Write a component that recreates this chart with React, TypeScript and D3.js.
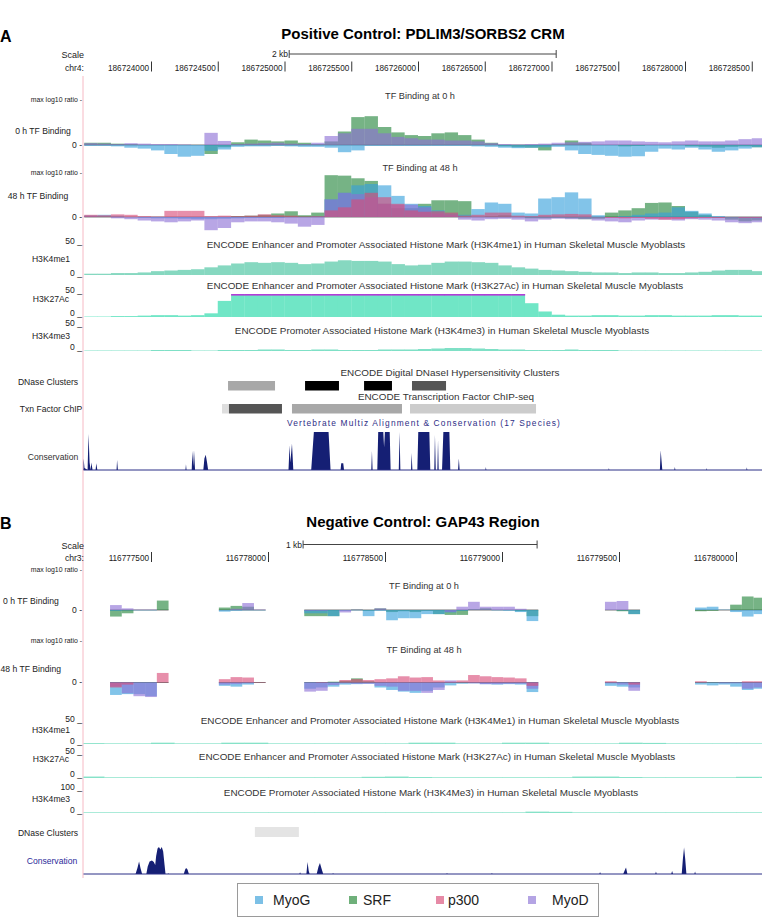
import * as d3 from "d3";
import React from "react";

const W = 762;
const H = 921;
const FONT = "'Liberation Sans', Arial, Helvetica, sans-serif";
const LEFT = 83.5;
const RIGHT = 762;

// ---- factor colours ----
const factorNames = ["MyoG", "SRF", "p300", "MyoD"];
const factorColors: any = {
  MyoG: "#35a0dc",
  SRF: "#22853a",
  p300: "#d94a78",
  MyoD: "#8c70d5",
};
const legendColors: any = {
  MyoG: "#7cc0e6",
  SRF: "#6fb07a",
  p300: "#e68aa6",
  MyoD: "#b4a4e4",
};
// draw order of the overlay
const drawOrder = ["SRF", "MyoG", "MyoD", "p300"];

// ---- Positive control, chr4, 100 bp bins from 186723500 ----
const aBinStart = 186723500;
const aBin = 100;

const myogA0 = [-0.02, -0.02, -0.03, -0.06, -0.08, -0.12, -0.2, -0.26, -0.24, -0.13, -0.1, -0.04, -0.03, -0.03, -0.02, -0.03, -0.04, -0.04, -0.06, -0.16, -0.12, -0.02, -0.02, -0.02, -0.02, -0.02, -0.02, -0.02, -0.02, -0.03, -0.04, -0.06, -0.07, -0.06, -0.05, -0.04, -0.12, -0.2, -0.22, -0.24, -0.26, -0.25, -0.15, -0.08, -0.1, -0.06, -0.1, -0.15, -0.12, -0.08, -0.05];
const srfA0 = [0.05, 0.05, 0.03, 0.02, 0, 0, 0, 0, 0, -0.2, -0.05, 0.06, 0.12, 0.1, 0.08, 0.1, 0.05, 0.02, 0.08, 0.3, 0.62, 0.64, 0.4, 0.28, 0.22, 0.2, 0.26, 0.28, 0.22, 0.12, 0.05, -0.03, -0.05, -0.06, -0.12, 0.02, 0.1, 0.05, 0, 0, -0.03, -0.02, 0, 0, 0, -0.03, -0.04, -0.06, -0.04, -0.03, -0.05];
const myodA0 = [0.04, 0.03, 0.02, 0.04, 0.03, 0.02, 0.02, 0.01, 0, 0.27, 0.09, 0.02, 0.03, 0.04, 0.05, 0.03, 0.02, 0.05, 0.2, 0.26, 0.36, 0.36, 0.26, 0.18, 0.15, 0.12, 0.12, 0.1, 0.1, 0.08, 0.04, 0.02, 0.01, 0.02, 0.03, 0.05, 0.06, 0.07, 0.08, 0.1, 0.1, 0.08, 0.07, 0.06, 0.08, 0.1, 0.08, 0.08, 0.1, 0.13, 0.15];

const myogA48 = [0.04, 0.05, 0.03, 0, -0.02, -0.03, -0.03, -0.04, -0.05, -0.05, -0.04, -0.03, -0.02, -0.02, -0.02, 0, 0, 0.02, 0.4, 0.55, 0.72, 0.75, 0.72, 0.48, 0.3, 0.25, 0.15, 0.08, 0.05, 0.18, 0.33, 0.3, 0.1, 0.08, 0.42, 0.45, 0.56, 0.42, 0.04, 0, 0.02, 0.05, 0.08, 0.1, 0.22, 0.14, 0.08, 0.02, 0, -0.02, -0.03];
const srfA48 = [0.02, 0.02, 0, 0, 0, 0, 0, 0, 0, 0, 0, 0.02, 0.03, 0.05, 0.08, 0.13, 0.04, 0.1, 0.95, 0.94, 0.88, 0.82, 0.3, 0.2, 0.2, 0.3, 0.38, 0.38, 0.36, 0, 0.02, 0.04, 0, -0.03, -0.03, -0.02, -0.03, -0.05, -0.04, 0.1, 0.15, 0.2, 0.32, 0.33, 0.25, 0.12, 0.05, -0.02, -0.06, -0.1, -0.08];
const myodA48 = [0.02, 0, -0.03, -0.05, -0.08, -0.1, -0.12, -0.1, -0.08, -0.3, -0.25, -0.12, -0.1, -0.1, -0.12, -0.15, -0.22, -0.18, 0.4, 0.55, 0.52, 0.45, 0.3, 0.28, 0.28, 0.22, 0.08, 0.05, -0.06, -0.08, -0.05, -0.04, -0.06, -0.1, -0.06, -0.04, -0.05, -0.05, -0.08, -0.1, -0.12, -0.08, -0.06, -0.06, -0.08, -0.05, -0.06, -0.08, -0.12, -0.14, -0.12];
const p300A48 = [0.05, 0.04, 0.06, 0.05, 0.02, 0.01, 0.14, 0.14, 0.14, 0.02, 0.03, 0.02, 0.03, 0.06, 0.04, 0.03, 0.01, 0.02, 0.15, 0.22, 0.4, 0.55, 0.45, 0.3, 0.15, 0.12, 0.13, 0.1, 0.03, 0.05, 0.1, 0.1, 0.03, 0.02, 0.05, 0.06, 0.07, 0.06, 0, -0.02, -0.03, -0.02, -0.04, -0.06, -0.05, -0.03, -0.02, -0.02, 0, -0.02, -0.02];

// histone marks, same 100 bp bins
const h3k4me1A = [2, 2, 3, 3, 4, 6, 7, 8, 9, 12, 15, 18, 20, 19, 20, 19, 17, 18, 21, 23, 22, 22, 21, 17, 15, 16, 19, 21, 21, 20, 19, 15, 12, 10, 8, 7, 6, 5, 4, 4, 3, 4, 4, 3, 3, 4, 5, 7, 8, 8, 6];
const h3k27acA = [1, 1, 2, 2, 3, 4, 4, 3, 4, 8, 35, 62, 64, 63, 62, 64, 63, 62, 64, 65, 63, 62, 64, 63, 62, 61, 63, 64, 62, 61, 60, 58, 52, 30, 12, 5, 3, 3, 4, 4, 3, 3, 4, 4, 3, 3, 3, 4, 4, 3, 3];
const h3k4me3A = [1, 1, 1, 1, 1, 2, 2, 2, 1, 1, 2, 2, 2, 3, 3, 2, 2, 3, 3, 2, 2, 2, 3, 3, 3, 4, 5, 6, 6, 5, 4, 3, 3, 2, 2, 2, 3, 2, 2, 2, 1, 1, 1, 1, 1, 1, 1, 1, 1, 1, 1];

// [start, end, score]
const dnaseA = [
  [186724577, 186724929, 340],
  [186725154, 186725408, 1000],
  [186725596, 186725805, 1000],
  [186725955, 186726210, 667],
];
const chipA = [
  [186724532, 186724584, 130],
  [186724584, 186724981, 667],
  [186725056, 186725880, 340],
  [186725940, 186726884, 200],
];

// conservation profile vertices: [offset from 186724000, score 0..1]
const consA = [
  [-512, 0], [-505, 0.3], [-498, 0.05], [-475, 0], [-468, 0.95], [-460, 0.2], [-452, 0], [-446, 0.2], [-438, 0],
  [-415, 0], [-410, 0.18], [-402, 0], [-258, 0], [-254, 0.26], [-248, 0], [258, 0], [262, 0.15], [266, 0],
  [305, 0], [310, 0.5], [316, 0.1], [322, 0.52], [330, 0], [392, 0], [400, 0.3], [410, 0.4], [420, 0.2], [428, 0],
  [1030, 0], [1038, 0.65], [1044, 0.2], [1056, 0.7], [1066, 0], [1200, 0], [1220, 1], [1330, 1], [1345, 0],
  [1420, 0], [1425, 0.18], [1440, 0.18], [1446, 0], [1650, 0], [1655, 0.5], [1660, 0],
  [1695, 0], [1702, 1], [1740, 1], [1746, 0.6], [1752, 1], [1788, 1], [1795, 0],
  [1856, 0], [1862, 1], [1868, 0], [1948, 0], [1952, 0.45], [1958, 0], [1995, 0], [2002, 1], [2085, 1], [2092, 0],
  [2122, 0], [2127, 0.92], [2133, 0], [2145, 0], [2150, 0.78], [2155, 0], [2180, 0], [2190, 1], [2235, 1], [2242, 0],
  [2300, 0], [2306, 0.3], [2312, 0], [2505, 0], [2508, 0.08], [2512, 0], [3427, 0], [3430, 0.05], [3433, 0],
  [3812, 0], [3818, 0.52], [3824, 0.25], [3830, 0], [3920, 0], [3924, 0.08], [3928, 0], [4160, 0], [4163, 0.05],
  [4166, 0], [4460, 0], [4463, 0.07], [4467, 0],
];

// ---- Negative control, chr3, 50 bp bins in covered stretches ----
const bSegments = [
  [116777325, 5],
  [116777790, 4],
  [116778155, 20],
  [116779440, 3],
  [116779825, 6],
];
const bBin = 50;

const myogB0 = [-0.02, -0.01, -0.01, -0.01, 0, -0.04, -0.02, -0.01, -0.01, -0.08, -0.08, -0.15, -0.02, -0.01, -0.15, -0.02, -0.25, -0.2, -0.2, -0.1, -0.1, -0.06, -0.02, 0, 0, -0.01, -0.02, -0.05, -0.27, 0, -0.01, -0.1, 0.06, 0.08, 0.01, -0.05, -0.16, -0.1];
const srfB0 = [-0.16, -0.08, 0, 0, 0.23, 0.06, 0.1, 0.08, 0, -0.15, -0.15, -0.15, 0, 0.01, -0.02, 0.04, -0.05, -0.03, -0.05, -0.02, -0.1, -0.12, -0.12, 0.02, 0.04, 0, 0, -0.03, -0.15, 0, -0.03, -0.1, -0.03, -0.02, 0, 0.13, 0.33, 0.3];
const myodB0 = [0.12, 0.04, 0.01, 0.01, 0, 0, 0.03, 0.17, 0.01, -0.02, -0.02, 0, -0.06, 0.01, 0, 0.04, 0, 0, 0, 0, 0, -0.05, 0.08, 0.2, 0.08, 0.08, 0.08, 0.03, 0, 0.2, 0.22, 0, 0, 0, 0, 0, 0, 0];

const myogB48 = [-0.3, -0.28, -0.28, -0.33, 0, -0.08, -0.1, -0.05, 0, -0.15, -0.12, -0.1, -0.05, -0.04, -0.03, -0.12, -0.18, -0.22, -0.25, -0.2, -0.12, -0.07, -0.03, -0.02, -0.04, -0.05, -0.04, -0.05, -0.23, -0.08, -0.1, -0.12, -0.05, -0.07, -0.05, -0.1, -0.18, -0.15];
const srfB48 = [0, 0, 0, 0, 0, 0, 0, 0, 0, 0, 0, 0.02, 0.04, 0.1, 0.03, 0, 0, 0, 0, 0, 0, 0, 0, 0, 0, 0, 0, 0, 0, 0, 0, 0, 0, 0, 0, 0, 0, 0];
const myodB48 = [-0.1, -0.26, -0.33, -0.35, 0, -0.05, -0.04, -0.02, 0, -0.22, -0.2, -0.06, -0.02, -0.03, -0.03, -0.08, -0.1, -0.2, -0.2, -0.25, -0.18, 0.05, 0, -0.02, -0.04, -0.04, -0.03, -0.03, -0.15, -0.02, -0.05, -0.2, 0, 0, -0.02, -0.02, -0.15, -0.12];
const p300B48 = [-0.12, -0.05, 0, 0, 0.23, 0.08, 0.13, 0.12, 0.01, 0, 0.01, 0, 0.06, 0.08, 0.06, 0.08, 0.1, 0.15, 0.12, 0.13, 0.05, 0.02, 0.05, 0.18, 0.15, 0.13, 0.12, 0.1, -0.08, 0.03, 0, -0.05, 0.03, 0, 0, 0, 0.03, 0.03];

// histone marks, 100 bp bins from 116777200
const bHistStart = 116777200;
const bHistBin = 100;
const h3k4me1B = [2, 1.5, 1.5, 3, 1.5, 1.5, 3, 3, 1.5, 1.5, 1.5, 1.5, 1.5, 1.5, 3, 3, 1.5, 1.5, 3, 3, 1.5, 1.5, 1.5, 3, 2.5, 1.5, 1.5, 1.5, 1.5, 1.5];
const h3k27acB = [3, 1.5, 1.5, 1.5, 1.5, 1.5, 1.5, 1.5, 1.5, 1.5, 1.5, 1.5, 2.5, 3, 2, 1.5, 1.5, 1.5, 1.5, 1.5, 1.5, 3, 3, 2, 1.5, 1.5, 1.5, 1.5, 2.5, 2.5];
const h3k4me3B = [3, 3, 3, 3, 3, 3, 3, 3, 3, 3, 3, 3, 3, 3, 3, 3, 3, 3, 3, 6, 5, 3, 3, 3, 3, 3, 3, 3, 3, 3];

const dnaseB = [[116777944, 116778132, 105]];

// conservation vertices: [offset from 116777500, score 0..1]
const consB = [
  [-66, 0], [-58, 0.2], [-51, 0.42], [-45, 0.2], [-38, 0], [-20, 0], [-14, 0.25], [-6, 0.42], [4, 0.45], [12, 0.4],
  [18, 0.3], [22, 0.6], [28, 0.85], [34, 0.9], [40, 0.82], [46, 0.9], [52, 0.75], [58, 0.3], [62, 0],
  [72, 0], [73, 0.04], [75, 0], [140, 0], [146, 0.15], [150, 0.2], [156, 0.15], [162, 0],
  [634, 0], [637, 0.06], [640, 0], [664, 0], [669, 0.4], [674, 0.1], [678, 0], [708, 0], [716, 0.25], [722, 0.37],
  [728, 0.2], [736, 0], [776, 0], [778, 0.04], [780, 0], [1263, 0], [1265, 0.04], [1267, 0], [1455, 0], [1457, 0.04],
  [1459, 0], [1916, 0], [1919, 0.07], [1922, 0], [2018, 0], [2026, 0.15], [2030, 0.22], [2036, 0], [2155, 0],
  [2158, 0.08], [2161, 0], [2223, 0], [2227, 0.1], [2231, 0], [2268, 0], [2273, 0.5], [2278, 0.88], [2283, 0.5],
  [2288, 0], [2322, 0], [2325, 0.08], [2328, 0],
];

// genome -> pixel scales
const xA = d3.scaleLinear().domain([186724000, 186726000]).range([151, 418]);
const xB = d3.scaleLinear().domain([116777500, 116778500]).range([151, 385]);
const greys = d3.scaleLinear<string>().domain([0, 1000]).range(["#ffffff", "#000000"]);

function TfTrack({ x, runs, bin, zeroY, maxY, series }: any) {
  const y = d3.scaleLinear().domain([0, 1]).range([zeroY, maxY]);
  const starts: number[] = [];
  runs.forEach(([s, n]: number[]) => {
    for (let i = 0; i < n; i++) starts.push(s + i * bin);
  });
  return (
    <g>
      {runs.map(([s, n]: number[], k: number) => (
        <line key={k} x1={Math.max(x(s), LEFT)} x2={Math.min(x(s + n * bin), RIGHT)} y1={zeroY} y2={zeroY} stroke="#777" strokeWidth={1} />
      ))}
      {drawOrder
        .filter((name) => series[name])
        .map((name) => (
          <g key={name} fill={factorColors[name]} fillOpacity={0.62}>
            {series[name].map((v: number, i: number) => {
              const x0 = Math.max(x(starts[i]), LEFT);
              const x1 = Math.min(x(starts[i] + bin), RIGHT);
              if (x1 <= x0 || v === 0) return null;
              const yv = y(v);
              return <rect key={i} x={x0} y={Math.min(yv, zeroY)} width={x1 - x0} height={Math.abs(yv - zeroY)} />;
            })}
          </g>
        ))}
    </g>
  );
}

function HistoneTrack({ x, start, bin, values, max, zeroY, topY, color }: any) {
  const y = d3.scaleLinear().domain([0, max]).range([zeroY, topY]).clamp(true);
  return (
    <g>
      <g fill={color}>
        {values.map((v: number, i: number) => {
          const x0 = Math.max(x(start + i * bin), LEFT);
          const x1 = Math.min(x(start + (i + 1) * bin), RIGHT);
          if (x1 <= x0) return null;
          return <rect key={i} x={x0} y={y(v)} width={x1 - x0 + 0.3} height={zeroY - y(v)} />;
        })}
      </g>
      {values.map((v: number, i: number) => {
        if (v <= max) return null;
        const x0 = Math.max(x(start + i * bin), LEFT);
        const x1 = Math.min(x(start + (i + 1) * bin), RIGHT);
        return <rect key={"c" + i} x={x0} y={topY} width={x1 - x0 + 0.3} height={1.6} fill="#b23cd8" />;
      })}
    </g>
  );
}

function Boxes({ x, items, y0, h }: any) {
  return (
    <g>
      {items.map(([s, e, score]: number[], i: number) => (
        <rect key={i} x={x(s)} y={y0} width={x(e) - x(s)} height={h} fill={greys(score)} />
      ))}
    </g>
  );
}

function Conservation({ x, origin, points, baseY, height }: any) {
  const y = d3.scaleLinear().domain([0, 1]).range([baseY, baseY - height]);
  const area = d3
    .area<number[]>()
    .x((d) => Math.max(LEFT, Math.min(RIGHT, x(origin + d[0]))))
    .y0(baseY)
    .y1((d) => y(d[1]));
  return (
    <g>
      <path d={area(points) || ""} fill="#151f74" />
      <line x1={LEFT} x2={RIGHT} y1={baseY} y2={baseY} stroke="#2a2f86" strokeWidth={1} />
    </g>
  );
}

function ChromRuler({ x, chrom, ticks, y, scaleY, scaleStart, scaleLen, scaleLabel, scaleLabelX }: any) {
  return (
    <g fontSize={8.2} fill="#222">
      <text x={84} y={scaleY + 4} textAnchor="end" fontSize={9}>Scale</text>
      <text x={scaleLabelX} y={scaleY + 3} textAnchor="end" fontSize={8.5}>{scaleLabel}</text>
      <line x1={x(scaleStart)} x2={x(scaleStart + scaleLen)} y1={scaleY} y2={scaleY} stroke="#444" />
      <line x1={x(scaleStart)} x2={x(scaleStart)} y1={scaleY - 4} y2={scaleY + 4} stroke="#444" />
      <line x1={x(scaleStart + scaleLen)} x2={x(scaleStart + scaleLen)} y1={scaleY - 4} y2={scaleY + 4} stroke="#444" />
      <text x={84} y={y} textAnchor="end" fontSize={8.6}>{chrom}</text>
      {ticks.map((t: number) => (
        <g key={t}>
          <text x={x(t) - 2} y={y} textAnchor="end">{t}</text>
          <line x1={x(t) + 0.5} x2={x(t) + 0.5} y1={y - 9} y2={y + 1} stroke="#333" />
        </g>
      ))}
    </g>
  );
}

function SideLabel({ y, text, x = 43, color = "#222", size = 8.6, anchor = "middle" }: any) {
  return (
    <text x={x} y={y} textAnchor={anchor} fontSize={size} fill={color}>{text}</text>
  );
}

function RightLabel({ y, text, size = 8.6 }: any) {
  return (
    <text x={82} y={y} textAnchor="end" fontSize={size} fill="#222">{text}</text>
  );
}

const TITLE_SIZE = 9.9;

export default function App() {
  const ticksA = d3.range(186724000, 186728600, 500);
  const ticksB = d3.range(116777500, 116780100, 500);
  const aRuns = [[aBinStart, myogA0.length]];

  return (
    <div style={{ position: "absolute", left: 0, top: 0 }}>
      <svg width={W} height={H} style={{ display: "block", background: "#fff" }} fontFamily={FONT}>
        <rect width={W} height={H} fill="#fff" />
        {/* left guide */}
        <line x1={83} x2={83} y1={76} y2={878} stroke="#f6b9c4" strokeWidth={1} />

        {/* ===== Panel A ===== */}
        <text x={0} y={41.5} fontSize={16} fontWeight="bold">A</text>
        <text x={423} y={39} fontSize={15} fontWeight="bold" textAnchor="middle">Positive Control: PDLIM3/SORBS2 CRM</text>
        <ChromRuler x={xA} chrom="chr4:" ticks={ticksA} y={70.5} scaleY={54} scaleStart={186725035} scaleLen={2000} scaleLabel="2 kb" scaleLabelX={288} />

        <RightLabel y={102} text="max log10 ratio -" size={6.9} />
        <SideLabel y={134} text="0 h TF Binding" />
        <RightLabel y={148} text="0 -" />
        <text x={420} y={99} textAnchor="middle" fontSize={9.2} fill="#333">TF Binding at 0 h</text>
        <TfTrack x={xA} runs={aRuns} bin={aBin} zeroY={145} maxY={100} series={{ MyoG: myogA0, SRF: srfA0, MyoD: myodA0 }} />

        <RightLabel y={175} text="max log10 ratio -" size={6.9} />
        <SideLabel y={199} text="48 h TF Binding" x={38} />
        <RightLabel y={220} text="0 -" />
        <text x={420} y={171} textAnchor="middle" fontSize={9.2} fill="#333">TF Binding at 48 h</text>
        <TfTrack x={xA} runs={aRuns} bin={aBin} zeroY={217} maxY={173} series={{ MyoG: myogA48, SRF: srfA48, MyoD: myodA48, p300: p300A48 }} />

        <RightLabel y={244} text="50 _" />
        <SideLabel y={262} text="H3K4me1" x={51} />
        <RightLabel y={276} text="0 _" />
        <text x={446} y={248} textAnchor="middle" fontSize={TITLE_SIZE} fill="#333">ENCODE Enhancer and Promoter Associated Histone Mark (H3K4me1) in Human Skeletal Muscle Myoblasts</text>
        <HistoneTrack x={xA} start={aBinStart} bin={aBin} values={h3k4me1A} max={50} zeroY={275} topY={243} color="#86d8c0" />

        <RightLabel y={293} text="50 _" />
        <SideLabel y={302} text="H3K27Ac" x={51} />
        <RightLabel y={316} text="0 _" />
        <text x={445} y={289} textAnchor="middle" fontSize={TITLE_SIZE} fill="#333">ENCODE Enhancer and Promoter Associated Histone Mark (H3K27Ac) in Human Skeletal Muscle Myoblasts</text>
        <HistoneTrack x={xA} start={aBinStart} bin={aBin} values={h3k27acA} max={50} zeroY={317} topY={294} color="#70e6c6" />

        <RightLabel y={326} text="50 _" />
        <SideLabel y={339} text="H3K4me3" x={51} />
        <RightLabel y={350} text="0 _" />
        <text x={442} y={334} textAnchor="middle" fontSize={TITLE_SIZE} fill="#333">ENCODE Promoter Associated Histone Mark (H3K4me3) in Human Skeletal Muscle Myoblasts</text>
        <HistoneTrack x={xA} start={aBinStart} bin={aBin} values={h3k4me3A} max={50} zeroY={351} topY={326} color="#7fe0c6" />

        <SideLabel y={385} text="DNase Clusters" x={48} />
        <text x={450} y={376} textAnchor="middle" fontSize={TITLE_SIZE} fill="#333">ENCODE Digital DNaseI Hypersensitivity Clusters</text>
        <Boxes x={xA} items={dnaseA} y0={381} h={9.5} />

        <SideLabel y={412} text="Txn Factor ChIP" x={51} />
        <text x={446} y={400} textAnchor="middle" fontSize={TITLE_SIZE} fill="#333">ENCODE Transcription Factor ChIP-seq</text>
        <Boxes x={xA} items={chipA} y0={404} h={9.5} />

        <text x={424} y={426} textAnchor="middle" fontSize={8.4} fill="#2e2e86" letterSpacing={1.15}>Vertebrate Multiz Alignment &amp; Conservation (17 Species)</text>
        <SideLabel y={460} text="Conservation" x={53} color="#333" />
        <Conservation x={xA} origin={186724000} points={consA} baseY={470} height={38} />

        {/* ===== Panel B ===== */}
        <text x={0} y={529} fontSize={16} fontWeight="bold">B</text>
        <text x={423} y={527} fontSize={15} fontWeight="bold" textAnchor="middle">Negative Control: GAP43 Region</text>
        <ChromRuler x={xB} chrom="chr3:" ticks={ticksB} y={561} scaleY={544.5} scaleStart={116778150} scaleLen={1000} scaleLabel="1 kb" scaleLabelX={302} />

        <RightLabel y={572} text="max log10 ratio -" size={6.9} />
        <SideLabel y={604} text="0 h TF Binding" x={3} anchor="start" />
        <RightLabel y={613} text="0 -" />
        <text x={424} y={589} textAnchor="middle" fontSize={9.2} fill="#333">TF Binding at 0 h</text>
        <TfTrack x={xB} runs={bSegments} bin={bBin} zeroY={610} maxY={569} series={{ MyoG: myogB0, SRF: srfB0, MyoD: myodB0 }} />

        <RightLabel y={643} text="max log10 ratio -" size={6.9} />
        <SideLabel y={672} text="48 h TF Binding" x={0.5} anchor="start" />
        <RightLabel y={685} text="0 -" />
        <text x={424} y={653} textAnchor="middle" fontSize={9.2} fill="#333">TF Binding at 48 h</text>
        <TfTrack x={xB} runs={bSegments} bin={bBin} zeroY={682.5} maxY={641} series={{ MyoG: myogB48, SRF: srfB48, MyoD: myodB48, p300: p300B48 }} />

        <RightLabel y={722} text="50 _" />
        <SideLabel y={733} text="H3K4me1" x={51} />
        <RightLabel y={744} text="0 _" />
        <text x={440} y={724} textAnchor="middle" fontSize={TITLE_SIZE} fill="#333">ENCODE Enhancer and Promoter Associated Histone Mark (H3K4Me1) in Human Skeletal Muscle Myoblasts</text>
        <HistoneTrack x={xB} start={bHistStart} bin={bHistBin} values={h3k4me1B} max={50} zeroY={744} topY={722} color="#86e2c8" />

        <RightLabel y={754} text="50 _" />
        <SideLabel y={762} text="H3K27Ac" x={51} />
        <RightLabel y={777} text="0 _" />
        <text x={437} y={760} textAnchor="middle" fontSize={TITLE_SIZE} fill="#333">ENCODE Enhancer and Promoter Associated Histone Mark (H3K27Ac) in Human Skeletal Muscle Myoblasts</text>
        <HistoneTrack x={xB} start={bHistStart} bin={bHistBin} values={h3k27acB} max={50} zeroY={778} topY={754} color="#86e2c8" />

        <RightLabel y={790} text="100 _" />
        <SideLabel y={802} text="H3K4me3" x={51} />
        <RightLabel y={813} text="0 _" />
        <text x={431} y={796} textAnchor="middle" fontSize={TITLE_SIZE} fill="#333">ENCODE Promoter Associated Histone Mark (H3K4Me3) in Human Skeletal Muscle Myoblasts</text>
        <HistoneTrack x={xB} start={bHistStart} bin={bHistBin} values={h3k4me3B} max={100} zeroY={813} topY={790} color="#86e2c8" />

        <SideLabel y={836} text="DNase Clusters" x={48} />
        <Boxes x={xB} items={dnaseB} y0={827} h={10} />

        <SideLabel y={864} text="Conservation" x={52} color="#2b2b9a" />
        <Conservation x={xB} origin={116777500} points={consB} baseY={874} height={30} />

        {/* ===== Legend ===== */}
        <rect x={237.5} y={883.5} width={361} height={33} fill="#fff" stroke="#9a9a9a" strokeWidth={1} />
        {factorNames.map((name, i) => {
          const lx = [255, 349, 436, 528][i];
          const tx = [273, 363, 448, 552][i];
          return (
            <g key={name}>
              <rect x={lx} y={896} width={8} height={8} fill={legendColors[name]} />
              <text x={tx} y={905} fontSize={14} fill="#222">{name}</text>
            </g>
          );
        })}
      </svg>
    </div>
  );
}
